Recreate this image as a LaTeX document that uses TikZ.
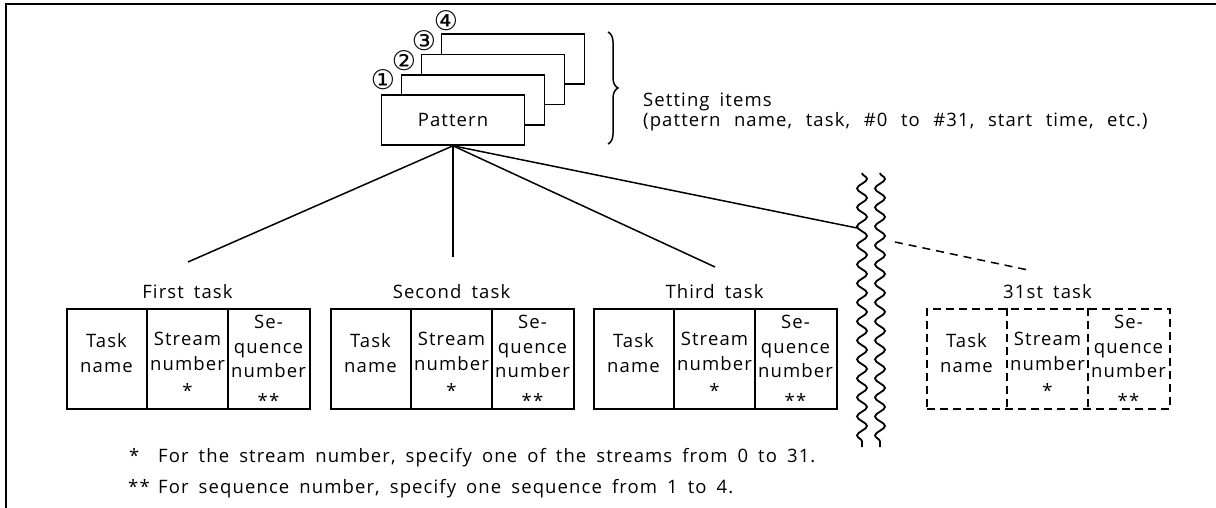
\documentclass[tikz,border=0pt]{standalone}
\usepackage{fontspec}
\setmainfont{Open Sans}[LetterSpace=6, WordSpace=1.7]
\newfontfamily\widefont{Open Sans}[LetterSpace=6, WordSpace=2.3]
\newfontfamily\circfont{DejaVu Sans}
\usetikzlibrary{decorations.pathmorphing,decorations.pathreplacing,calc}

% one task record: name, left x, title, line style
\newcommand\taskrec[4]{%
  \node[recframe,#4,anchor=north west] (#1) at (#2,308) {};
  \draw[#4] ($(#1.north west)+(81,0)$) -- ($(#1.south west)+(81,0)$);
  \draw[#4] ($(#1.north west)+(162,0)$) -- ($(#1.south west)+(162,0)$);
  \node[anchor=base] (#1-title) at (#2+121.5,298) {#3};
  \node[anchor=base] (#1-a1) at (#2+40.5,347) {Task};
  \node[anchor=base] (#1-a2) at (#2+40.5,372) {name};
  \node[anchor=base] (#1-b1) at (#2+121.5,345) {Stream};
  \node[anchor=base] (#1-b2) at (#2+121.5,370) {number};
  \node[anchor=base] (#1-b3) at (#2+121.5,397) {*};
  \node[anchor=base] (#1-c1) at (#2+202.5,328) {Se-};
  \node[anchor=base] (#1-c2) at (#2+202.5,353) {quence};
  \node[anchor=base] (#1-c3) at (#2+202.5,377) {number};
  \node[anchor=base] (#1-c4) at (#2+202.5,407) {**};
}

\begin{document}
\begin{tikzpicture}[x=1pt,y=-1pt,
  every node/.style={inner sep=0pt, font=\fontsize{18.5}{24}\selectfont},
  frameline/.style={line width=2pt},
  patbox/.style={draw, fill=white, line width=1.6pt, minimum width=143pt, minimum height=50pt},
  recframe/.style={draw, line width=1.6pt, minimum width=243pt, minimum height=100pt},
  solidrec/.style={line width=1.6pt},
  dashrec/.style={line width=1.6pt, dash pattern=on 8pt off 5pt},
  conn/.style={line width=1.5pt},
  circnum/.style={font=\circfont\fontsize{27}{27}\selectfont},
  wavy/.style={line width=1.8pt, decorate, decoration={snake, amplitude=5pt, segment length=19pt}}
]
\useasboundingbox (0,0) rectangle (1216,508);

% outer frame (top and left edges)
\draw[frameline] (6,508) -- (6,4) -- (1216,4);

% stacked pattern sheets, back to front
\node[patbox] (p4) at (513,59) {};
\node[patbox] (p3) at (493,79.5) {};
\node[patbox] (p2) at (473,100) {};
\node[patbox] (p1) at (453,120) {Pattern};

\node[circnum] (n1) at (383,80) {①};
\node[circnum] (n2) at (404,61) {②};
\node[circnum] (n3) at (424,41) {③};
\node[circnum] (n4) at (446,21) {④};

% brace and setting items
\draw[line width=1.5pt, decorate, decoration={brace, amplitude=10pt}] (608,32) -- (608,144);
\node[anchor=base west] (s1) at (643,107) {Setting items};
\node[anchor=base west, font=\widefont\fontsize{18.5}{24}\selectfont] (s2) at (643,127) {(pattern name, task, \#0 to \#31, start time, etc.)};

% task records
\taskrec{t1}{66}{First task}{solidrec}
\taskrec{t2}{330}{Second task}{solidrec}
\taskrec{t3}{593}{Third task}{solidrec}
\taskrec{t4}{926}{31st task}{dashrec}

% connectors from the pattern
\coordinate (e1) at (188,262);
\coordinate (e2) at (453,257);
\coordinate (e3) at (715,267);
\coordinate (e4) at (857,228);
\coordinate (d1) at (895,242);
\coordinate (d2) at (1028,270);
\draw[conn] (p1.south) -- (e1);
\draw[conn] (p1.south) -- (e2);
\draw[conn] (p1.south) -- (e3);
\draw[conn] (p1.south) -- (e4);
\draw[conn, dash pattern=on 8pt off 6pt] (d1) -- (d2);

% break marks
\draw[wavy] (862,173) -- (862,447);
\draw[wavy] (880,173) -- (880,447);

% footnotes
\node[anchor=base west] (f1m) at (129,462) {*};
\node[anchor=base west] (f1) at (158,462) {For the stream number, specify one of the streams from 0 to 31.};
\node[anchor=base west] (f2m) at (128,493) {**};
\node[anchor=base west] (f2) at (158,493) {For sequence number, specify one sequence from 1 to 4.};
\end{tikzpicture}
\end{document}
